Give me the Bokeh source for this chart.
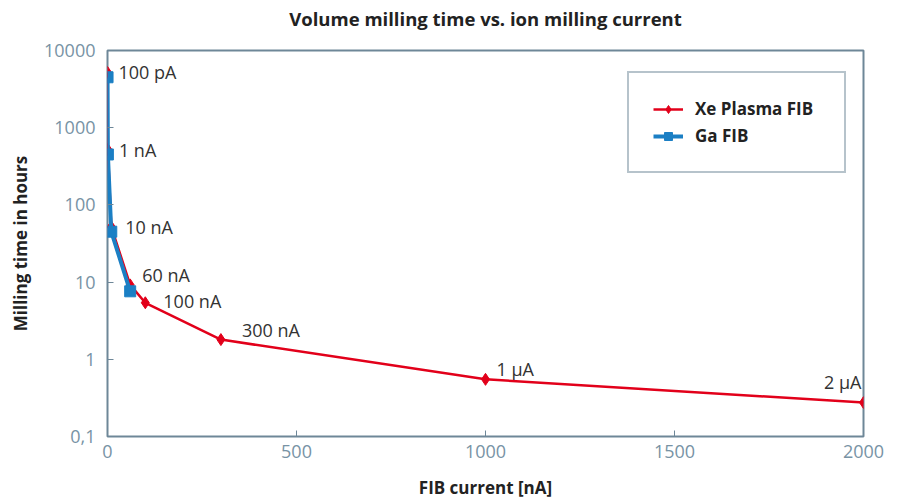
from bokeh.plotting import figure
from bokeh.models import (ColumnDataSource, FixedTicker, Legend, LegendItem, LabelSet, Range1d,
                          LinearAxis)
from bokeh.core.properties import value
from bokeh.embed import file_html
from bokeh.resources import INLINE

# ---- data ----
xe_current = [0.1, 1, 10, 60, 100, 300, 1000, 2000]
xe_hours = [5200, 520, 52, 9.2, 5.4, 1.8, 0.55, 0.275]
xe_labels = ["100 pA", "1 nA", "10 nA", "60 nA", "100 nA", "300 nA", "1 µA", "2 µA"]
ga_current = [0.1, 1, 10, 60]
ga_hours = [4500, 450, 45, 7.6]
y_ticks = [0.1, 1, 10, 100, 1000, 10000]
y_tick_labels = ["0,1", "1", "10", "100", "1000", "10000"]
x_ticks = [0, 500, 1000, 1500, 2000]
title_text = "Volume milling time vs. ion milling current"

# ---- styles ----
RED = "#e2001a"
BLUE = "#1b7fc4"
SLATE = "#6e8798"
TICK = "#7893a5"
FONT = "Open Sans"
lab_dx = [11, 11, 14, 12, 18, 21, 11, -2]
lab_dy = [0, 0, 0, 10, 2, 10, 10, 21]
lab_align = ["left"] * 7 + ["right"]

p = figure(width=897, height=502, output_backend="svg", toolbar_location=None,
           y_axis_type="log",
           x_range=Range1d(x_ticks[0], x_ticks[-1]),
           y_range=Range1d(y_ticks[0], y_ticks[-1]),
           min_border_left=107, min_border_right=34, min_border_top=50, min_border_bottom=66)

p.xgrid.visible = False
p.ygrid.visible = False
p.outline_line_color = SLATE
p.outline_line_width = 2
p.outline_line_alpha = 1

xax = p.below[0]
yax = p.left[0]

for ax in (xax, yax):
    ax.axis_line_color = None
    ax.major_tick_line_color = SLATE
    ax.minor_tick_line_color = None
    ax.major_tick_in = 6
    ax.major_tick_out = 0
    ax.major_label_text_font = FONT
    ax.major_label_text_font_size = "18px"
    ax.major_label_text_color = TICK
    ax.axis_label_text_font = FONT
    ax.axis_label_text_font_size = "17px"
    ax.axis_label_text_font_style = "bold"
    ax.axis_label_text_color = "#222222"

xax.ticker = FixedTicker(ticks=x_ticks)
yax.ticker = FixedTicker(ticks=y_ticks)
yax.major_label_overrides = {t: l for t, l in zip(y_ticks, y_tick_labels)}
xax.axis_label = "FIB current [nA]"
yax.axis_label = "Milling time in hours"
xax.major_label_standoff = 8
yax.major_label_standoff = 12
xax.axis_label_standoff = 15
yax.axis_label_standoff = 9

# title drawn as the label of a tick-less axis above the frame
title_axis = LinearAxis(axis_label=title_text, ticker=FixedTicker(ticks=[]),
                        axis_line_color=None, major_tick_line_color=None,
                        minor_tick_line_color=None, major_label_text_font_size="0px",
                        axis_label_text_font=FONT, axis_label_text_font_size="18.5px",
                        axis_label_text_font_style="bold", axis_label_text_color="#222222",
                        axis_label_standoff=20, major_label_standoff=0,
                        major_tick_in=0, major_tick_out=0)
p.add_layout(title_axis, "above")

xe_src = ColumnDataSource(dict(x=xe_current, y=xe_hours, lab=xe_labels,
                               dx=lab_dx, dy=lab_dy, al=lab_align))
ga_src = ColumnDataSource(dict(x=ga_current, y=ga_hours))

xe_line = p.line("x", "y", source=xe_src, line_color=RED, line_width=2.5)
xe_pts = p.scatter("x", "y", source=xe_src, marker="diamond", size=12,
                   fill_color=RED, line_color=RED)
ga_line = p.line("x", "y", source=ga_src, line_color=BLUE, line_width=4)
ga_pts = p.scatter("x", "y", source=ga_src, marker="square", size=11,
                   fill_color=BLUE, line_color=BLUE)

labels = LabelSet(x="x", y="y", text="lab", source=xe_src, x_offset="dx", y_offset="dy",
                  text_align="al", text_baseline="middle", text_font=value(FONT),
                  text_font_size="18px", text_color="#333333")
p.add_layout(labels)

legend = Legend(items=[LegendItem(label="Xe Plasma FIB", renderers=[xe_line, xe_pts]),
                       LegendItem(label="Ga FIB", renderers=[ga_line, ga_pts])],
                location=(520, 263), padding=24, spacing=4, glyph_width=30,
                glyph_height=20, label_height=20, label_width=125, label_standoff=12,
                margin=0, border_line_color=SLATE, border_line_width=2,
                label_text_font=FONT, label_text_font_size="17px",
                label_text_font_style="bold", label_text_color="#222222")
p.add_layout(legend)

open("out.html", "w").write(file_html(p, INLINE))
